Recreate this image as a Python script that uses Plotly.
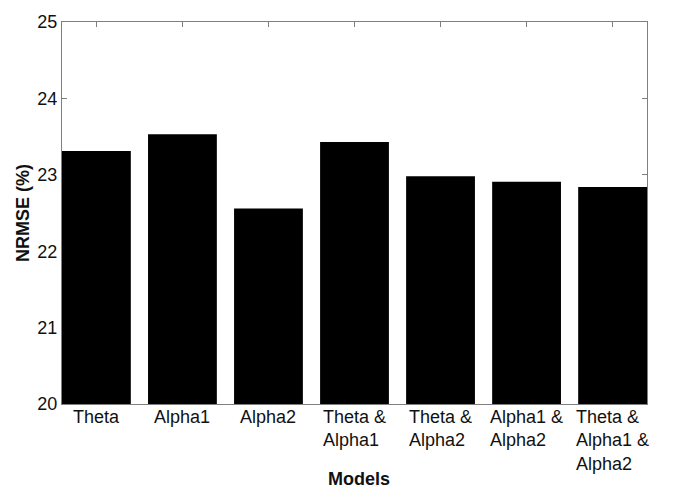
import plotly.graph_objects as go

# Model feature sets and their normalised RMSE (%)
models = ["Theta", "Alpha1", "Alpha2", "Theta & Alpha1", "Theta & Alpha2",
          "Alpha1 & Alpha2", "Theta & Alpha1 & Alpha2"]
tick_labels = ["Theta", "Alpha1", "Alpha2", "Theta &<br>Alpha1", "Theta &<br>Alpha2",
               "Alpha1 &<br>Alpha2", "Theta &<br>Alpha1 &<br>Alpha2"]
nrmse = [23.31, 23.53, 22.56, 23.43, 22.98, 22.91, 22.84]
y_ticks = [20, 21, 22, 23, 24, 25]

FONT = "Liberation Sans, Arial, sans-serif"
AXIS_GREY = "#7f7f7f"
TEXT = "#111111"

fig = go.Figure(
    go.Bar(
        x=models,
        y=nrmse,
        width=0.8,
        marker=dict(color="black", line=dict(width=0)),
        hoverinfo="x+y",
    )
)

# Category labels drawn as left-aligned text blocks centred under each bar
annotations = [
    dict(
        x=m, y=0, xref="x", yref="paper",
        text=lab, showarrow=False,
        xanchor="center", yanchor="top", align="left",
        yshift=-1,
        font=dict(family=FONT, size=18, color=TEXT),
    )
    for m, lab in zip(models, tick_labels)
]
annotations.append(dict(
    x=0.5, y=0, xref="paper", yref="paper", text="<b>Models</b>",
    showarrow=False, xanchor="center", yanchor="bottom", yshift=-87, xshift=4,
    font=dict(family=FONT, size=18, color=TEXT),
))
annotations.append(dict(
    x=0, y=0.5, xref="paper", yref="paper", text="<b>NRMSE (%)</b>",
    showarrow=False, xanchor="center", yanchor="middle", textangle=-90,
    xshift=-39,
    font=dict(family=FONT, size=18, color=TEXT),
))

fig.update_layout(
    width=677, height=492,
    margin=dict(l=62, r=30, t=13, b=88),
    paper_bgcolor="white", plot_bgcolor="white",
    showlegend=False,
    annotations=annotations,
    xaxis=dict(
        type="category",
        range=[-0.4, len(models) - 0.6],
        showticklabels=False,
        showline=True, linecolor=AXIS_GREY, linewidth=1,
        mirror="ticks", ticks="inside", ticklen=5, tickcolor=AXIS_GREY,
        showgrid=False, zeroline=False, layer="below traces",
    ),
    yaxis=dict(
        range=[20, 25],
        tickvals=y_ticks,
        ticktext=[str(v) for v in y_ticks],
        tickfont=dict(family=FONT, size=18, color=TEXT),
        showline=True, linecolor=AXIS_GREY, linewidth=1,
        mirror="ticks", ticks="inside", ticklen=5, tickcolor=AXIS_GREY,
        showgrid=False, zeroline=False, layer="below traces",
    ),
)

fig.write_html("out.html")
